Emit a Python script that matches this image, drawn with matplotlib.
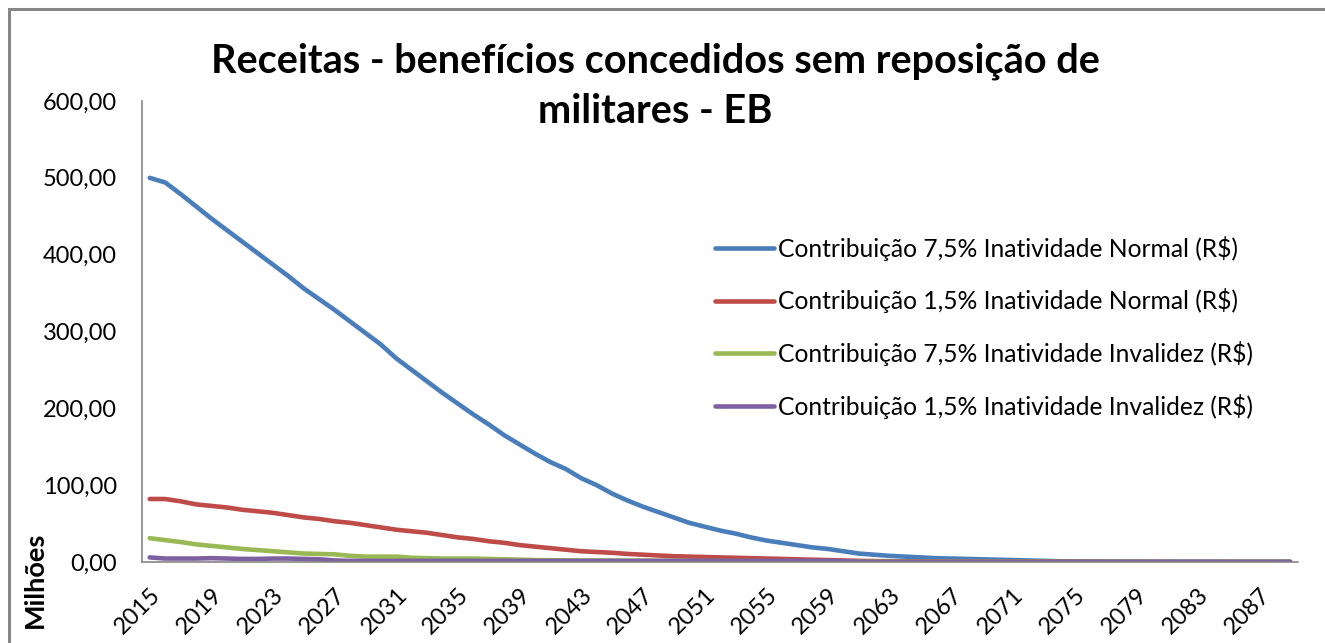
import matplotlib
matplotlib.use("Agg")
import matplotlib.pyplot as plt
from matplotlib.patches import Rectangle
from matplotlib.transforms import ScaledTranslation

years = list(range(2015, 2090))

blue = [500, 494, 479, 463, 447, 432, 417, 402, 387, 372,
        356, 342, 328, 313, 298, 283, 265, 250, 235, 220,
        206, 192, 179, 165, 153, 141, 130, 121, 109, 100,
        89, 80, 72, 65, 58, 51, 46, 41, 37, 32,
        28, 25, 22, 19, 17, 14, 11, 9.5, 8, 7,
        6, 5, 4.5, 4, 3.5, 3, 2.5, 2, 1.5, 1,
        0.8, 0.6, 0.5, 0.4, 0.4, 0.3, 0.3, 0.2, 0.2, 0.2,
        0.1, 0.1, 0.1, 0.1, 0.1]

red = [82, 82, 79, 75, 73, 71, 68, 66, 64, 61,
       58, 56, 53, 51, 48, 45, 42, 40, 38, 35,
       32, 30, 27, 25, 22, 20, 18, 16, 14, 13,
       12, 10.5, 9.5, 8.5, 7.5, 7, 6.5, 6, 5.5, 5,
       4.5, 4, 3.5, 3, 2.5, 2, 1.5, 1.2, 1, 0.9,
       0.8, 0.7, 0.6, 0.6, 0.5, 0.5, 0.5, 0.6, 0.6, 0.5,
       0.4, 0.3, 0.3, 0.2, 0.2, 0.2, 0.1, 0.1, 0.1, 0.1,
       0.1, 0.1, 0.1, 0.1, 0.1]

green = [31, 28.5, 26, 23, 21, 19, 17, 15.5, 14, 12.5,
         11, 10.5, 10, 8, 7, 7, 7, 5.5, 5, 4.5,
         4.5, 4.5, 4, 3.5, 3, 2.5, 2.3, 2.1, 2, 1.9,
         1.8, 1.7, 1.6, 1.5, 1.4, 1.3, 1.2, 1.1, 1.0, 0.9,
         0.8, 0.8, 0.7, 0.7, 0.6, 0.5, 0.4, 0.4, 0.3, 0.3,
         0.3, 0.3, 0.3, 0.3, 0.3, 0.3, 0.3, 0.3, 0.2, 0.2,
         0.2, 0.2, 0.2, 0.2, 0.2, 0.1, 0.1, 0.1, 0.1, 0.1,
         0.1, 0.1, 0.1, 0.1, 0.1]

purple = [6, 4.5, 4.5, 4.5, 5, 4.5, 4, 4, 4.5, 4.5,
          4, 3.5, 2, 1.5, 1.5, 1.5, 1.5, 1.5, 1.5, 1.5,
          1.5, 1.5, 1.5, 1.5, 1.5, 1.5, 1.5, 1.5, 1.5, 1.5,
          1.5, 1.5, 1.5, 1.5, 1.5, 1.5, 1.5, 1.5, 1.5, 1.5,
          1.5, 1.5, 1.5, 1.5, 1.5, 1.0, 0.3, 0.2, 0.2, 0.2,
          0.2, 0.2, 0.2, 0.2, 0.2, 0.2, 0.2, 0.2, 0.2, 0.2,
          0.2, 0.2, 0.2, 0.2, 0.2, 0.2, 0.2, 0.2, 0.2, 0.2,
          0.2, 0.2, 0.2, 0.2, 0.2]

labels = ["Contribuição 7,5% Inatividade Normal (R$)",
          "Contribuição 1,5% Inatividade Normal (R$)",
          "Contribuição 7,5% Inatividade Invalidez (R$)",
          "Contribuição 1,5% Inatividade Invalidez (R$)"]
colors = ["#4A7EBB", "#BE4B48", "#98B954", "#7D60A0"]

title = "Receitas - benefícios concedidos sem reposição de\nmilitares - EB"
yticks = [0, 100, 200, 300, 400, 500, 600]
xtick_years = list(range(2015, 2090, 4))

plt.rcParams['font.family'] = ['Lato', 'DejaVu Sans']

W, H = 1325, 643
fig = plt.figure(figsize=(W / 100, H / 100), dpi=100)
fig.patch.set_facecolor("white")

# outer chart frame
fig.add_artist(Rectangle((9 / W, -0.05), 1.2, (H - 9) / H + 0.05,
                         transform=fig.transFigure, fill=False,
                         edgecolor="#868686", linewidth=2.2))

ax = fig.add_axes([142 / W, 1 - 562 / H, (1298 - 142) / W, (562 - 101) / H])
for s, c in zip([blue, red, green, purple], colors):
    ax.plot(years, s, color=c, linewidth=3.3, solid_capstyle="round")

ax.set_xlim(2014.5, 2089.5)
ax.set_ylim(0, 600)
ax.set_yticks(yticks)
ax.set_yticklabels([f"{v:.2f}".replace(".", ",") for v in yticks], fontsize=17)
ax.set_xticks(xtick_years)
ax.set_xticklabels([str(y) for y in xtick_years], rotation=45, ha="right",
                   va="top", rotation_mode="anchor", fontsize=17)
offset = ScaledTranslation(8 / 100, 0, fig.dpi_scale_trans)
for lab in ax.get_xticklabels():
    lab.set_transform(lab.get_transform() + offset)
ax.tick_params(axis="y", length=0, pad=18)
ax.tick_params(axis="x", length=0, pad=16)
for side in ["top", "right"]:
    ax.spines[side].set_visible(False)
for side in ["left", "bottom"]:
    ax.spines[side].set_color("#868686")
    ax.spines[side].set_linewidth(1.2)

fig.text(655 / W, 1 - 86 / H, title, ha="center", va="center",
         fontsize=28.5, fontweight="bold", linespacing=1.45)

fig.text(35 / W, 1 - 580 / H, "Milhões", rotation=90, ha="center",
         va="center", fontsize=19.5, fontweight="bold")

leg = ax.legend(labels, loc="upper left", bbox_to_anchor=(710 / W, 1 - 231 / H),
                bbox_transform=fig.transFigure, frameon=False, fontsize=17.7,
                handlelength=2.4, handletextpad=0.15, labelspacing=1.12,
                borderaxespad=0, borderpad=0.2)
for line in leg.get_lines():
    line.set_linewidth(3.3)

fig.savefig("out.png", dpi=100)
